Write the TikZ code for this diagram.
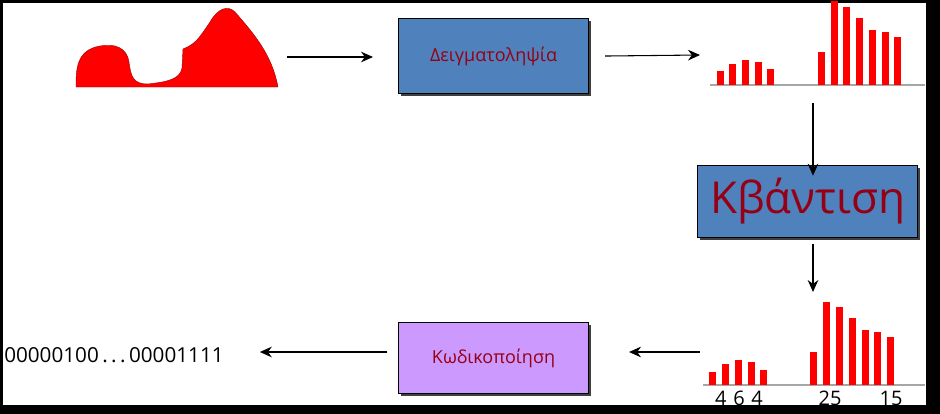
\documentclass[tikz,border=0pt]{standalone}
\usepackage{fontspec}
\setmainfont{Open Sans}
\usetikzlibrary{arrows.meta}
\definecolor{boxblue}{RGB}{79,129,189}
\definecolor{boxlilac}{RGB}{204,153,255}
\definecolor{darkred}{RGB}{150,0,20}

\begin{document}
\begin{tikzpicture}[x=0.75pt,y=-0.75pt,
        box/.style = {draw=black, line width=0.8pt, anchor=north west, inner sep=0pt,
            text=darkred, font=\fontsize{13.5}{16}\selectfont},
        shadowbox/.style = {fill=black!75},
        flow/.style = {-{Stealth[length=9pt,width=8pt]}, line width=0.8pt},
        bar/.style = {fill=red, draw=none},
        axis/.style = {draw=gray!70, line width=1pt},
        numlbl/.style = {font=\fontsize{15}{18}\selectfont}]

        % frame
        \fill[black] (0,0) rectangle (940,414);
        \fill[white] (3,3) rectangle (926,405);
        \useasboundingbox (0,0) rectangle (940,414);

        % analog signal
        \fill[red, draw=red!60!black, line width=0.3pt] (76,87)
            .. controls (76,70) and (76,50) .. (100,46)
            .. controls (115,43) and (127,48) .. (129,62)
            .. controls (131,78) and (134,84) .. (148,84)
            .. controls (165,82) and (180,80) .. (182,68)
            -- (183,49) .. controls (195,44) and (198,40) .. (210,22)
            .. controls (218,8) and (228,5) .. (235,12)
            .. controls (255,35) and (272,55) .. (278,87) -- cycle;
        \coordinate (sigE) at (287,57);
        \coordinate (sampW) at (373,57);

        % boxes
        \fill[shadowbox] (401,21) rectangle (591,96);
        \node[box, fill=boxblue, minimum width=190*0.75pt, minimum height=75*0.75pt]
            (samp) at (398,18) {Δειγματοληψία};
        \fill[shadowbox] (700,168) rectangle (920,240);
        \node[box, fill=boxblue, minimum width=220*0.75pt, minimum height=72*0.75pt,
            font=\fontsize{33}{38}\selectfont] (quant) at (697,165) {Κβάντιση};
        \fill[shadowbox] (401,325) rectangle (591,396);
        \node[box, fill=boxlilac, minimum width=190*0.75pt, minimum height=71*0.75pt]
            (code) at (398,322) {Κωδικοποίηση};

        % sampled histogram
        \draw[axis] (710,85) -- (925,85);
        \foreach \x/\t in {717/71,729/64,742/60,755/62,767/69,818/52,831/1,843/7,856/18,869/30,882/32,894/37}
            \fill[bar] (\x,\t) rectangle ++(7,85-\t);
        \coordinate (histA) at (700,55);
        \coordinate (histB) at (813,103);

        % quantised histogram
        \draw[axis] (703,385) -- (925,385);
        \foreach \x/\t in {709/372,722/364,735/360,748/362,760/370,810/352,823/302,836/307,849/318,862/330,874/332,887/337}
            \fill[bar] (\x,\t) rectangle ++(7,385-\t);
        \coordinate (histC) at (813,292);
        \coordinate (histD) at (700,352);
        \node[numlbl] (lblA) at (739,398) {4\,\,6\,\,4};
        \node[numlbl] (lblB) at (830,398) {25};
        \node[numlbl] (lblC) at (891,398) {15};

        % bit stream
        \node[font=\fontsize{15.5}{18}\selectfont, anchor=west, inner sep=0pt] (bits) at (4,355)
            {00000100\,.\,.\,.\,00001111};

        \draw[flow] (sigE) -- (sampW);
        \draw[flow] ([xshift=12]samp.east) -- (histA);
        \draw[flow] (histB) -- ([yshift=-8]histB |- quant.north);
        \draw[flow] (histB |- quant.south) ++(0,6) -- (histC);
        \draw[flow] (histD) -- ([xshift=30]code.east |- histD);
        \draw[flow] ([xshift=-8]code.west |- histD) -- ([xshift=27]bits.east |- histD);
\end{tikzpicture}
\end{document}
